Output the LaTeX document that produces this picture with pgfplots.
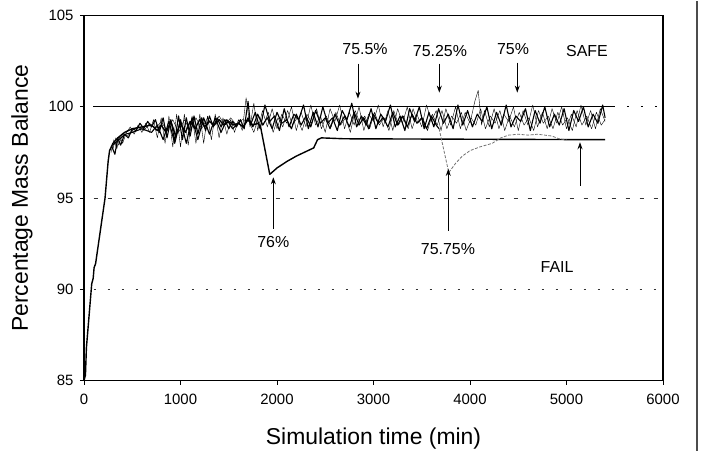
\documentclass[border=0pt]{standalone}
\usepackage{pgfplots}
\pgfplotsset{compat=1.18}
\usepackage{fontspec}
\setmainfont{Liberation Sans}
\usetikzlibrary{arrows.meta}
\begin{document}
\begin{tikzpicture}
\begin{axis}[name=ax, scale only axis, width=579bp, height=365bp,
  xmin=0, xmax=6000, ymin=85, ymax=105,
  xtick={0,1000,2000,3000,4000,5000,6000}, ytick={85,90,95,100,105},
  axis line style={line width=1.8bp},
  tick align=outside, tick pos=left, major tick length=4bp,
  tick style={black, line width=0.8bp},
  /pgf/number format/assume math mode=true,
  /pgf/number format/set thousands separator={},
  ticklabel style={font=\fontsize{15}{17}\selectfont},
  xticklabel style={yshift=-6bp},
  yticklabel style={xshift=-3bp},
  xlabel={Simulation time (min)}, ylabel={Percentage Mass Balance},
  label style={font=\fontsize{23}{26}\selectfont},
  xlabel style={at={(axis description cs:0.5,-0.1589)}, anchor=center},
  ylabel style={at={(axis description cs:-0.1071,0.5)}, anchor=center},
  cycle list={{black, solid, line width=1.1bp}},
  every axis plot/.append style={no marks, line join=round},
]
% reference lines
\addplot[black, line width=0.9bp] coordinates {(95,100) (5480,100)};
\addplot[black, line width=1bp, dash pattern=on 2bp off 12bp] coordinates {(5480,100) (5950,100)};
\addplot[black!80, line width=1bp, dash pattern=on 4bp off 10bp] coordinates {(100,95) (5950,95)};
\addplot[black!80, line width=1bp, dash pattern=on 2bp off 12bp] coordinates {(100,90) (5950,90)};

% 76%
\addplot[black, line width=1.4bp] coordinates {(0,85.0)(15,85.3)(25,86.8)(80,90.3)(95,90.6)(105,91.2)(120,91.4)(218,95.0)(250,97.0)(265,97.6)(300,98.0)(350,98.3)(420,98.6)(500,98.8)(600,98.9)(700,99.0)(760,98.7)(800,99.0)(850,98.6)(900,99.2)(950,98.4)(1000,99.1)(1050,98.6)(1100,99.2)(1150,98.8)(1200,99.3)(1250,98.9)(1300,99.2)(1350,99.0)(1400,99.3)(1450,99.0)(1500,99.2)(1550,99.0)(1600,99.1)(1650,98.9)(1700,99.3)(1750,99.0)(1800,99.1)(1830,98.9)(1925,96.3)(2000,96.65)(2100,97.0)(2200,97.3)(2300,97.55)(2380,97.75)(2420,98.2)(2460,98.3)(2700,98.25)(5400,98.2)};

% 75.75% (band part)
\addplot coordinates {(300,97.9)(360,98.2)(430,98.5)(500,98.6)(600,98.8)(700,98.6)(760,99.0)(820,98.2)(880,99.2)(940,98.0)(1000,99.3)(1060,98.0)(1120,99.4)(1180,98.2)(1240,99.4)(1300,98.5)(1360,99.4)(1420,98.6)(1480,99.3)(1540,98.8)(1600,99.1)(1650,98.9)(1700,99.4)(1750,98.9)(1800,99.6)(1850,99.0)(1900,99.4)(1950,98.8)(2000,99.7)(2050,99.1)(2100,99.3)(2150,98.8)(2200,99.6)(2250,99.0)(2300,99.5)(2350,98.9)(2400,99.8)(2450,99.1)(2500,99.4)(2550,98.8)(2600,99.6)(2650,99.0)(2700,99.5)(2750,98.9)(2800,99.7)(2850,99.0)(2900,99.4)(2950,98.8)(3000,99.6)(3050,99.1)(3100,99.4)(3150,98.9)(3200,99.7)(3250,99.0)(3300,99.5)(3350,98.9)(3400,99.6)(3450,99.1)(3500,99.4)(3550,98.8)(3600,99.5)(3650,99.0)(3680,98.8)};
% 75.75% (drop and recovery)
\addplot[black!55, line width=0.8bp, dash pattern=on 3bp off 1.5bp] coordinates {(3680,98.8)(3780,96.4)(3850,96.9)(3920,97.3)(4000,97.6)(4100,97.8)(4230,98.0)(4320,98.3)(4400,98.45)(4500,98.5)(4600,98.45)(4700,98.5)(4850,98.4)(4920,98.25)(5000,98.2)};

% 75.5%
\addplot coordinates {(280,97.5)(310,98.2)(340,97.7)(370,98.4)(400,98.0)(440,98.6)(480,98.9)(520,98.5)(560,99.0)(600,98.6)(640,99.1)(680,98.6)(720,99.3)(760,98.3)(800,99.4)(840,98.0)(880,99.5)(920,97.8)(960,99.6)(1000,97.8)(1040,99.6)(1080,97.9)(1120,99.5)(1160,98.0)(1200,99.6)(1240,98.0)(1280,99.5)(1320,98.2)(1360,99.6)(1400,98.3)(1440,99.4)(1480,98.5)(1520,99.3)(1560,98.6)(1600,99.3)(1640,98.7)(1680,100.5)(1720,98.9)(1760,100.2)(1800,98.7)(1850,99.8)(1900,98.9)(1950,99.9)(2000,98.8)(2050,99.6)(2100,99.1)(2150,100.0)(2200,98.7)(2250,99.7)(2300,98.9)(2350,100.1)(2400,99.0)(2450,99.5)(2500,98.6)(2550,99.9)(2600,99.2)(2650,100.1)(2700,98.8)(2750,99.7)(2800,99.0)(2850,100.0)(2900,98.7)(2950,99.6)(3000,99.2)(3050,100.1)(3100,98.9)(3150,99.8)(3200,98.7)(3250,99.9)(3300,99.1)(3350,100.0)(3400,98.8)(3450,99.6)(3500,98.9)(3550,100.1)(3600,99.2)(3650,99.8)(3700,98.7)(3750,99.9)(3800,99.0)(3850,100.0)(3900,98.8)(3950,99.7)(4000,99.1)(4050,100.3)(4085,100.9)(4120,99.0)(4150,99.8)(4200,98.9)(4250,99.9)(4300,98.8)(4350,99.6)(4400,99.2)(4450,100.0)(4500,98.7)(4550,99.8)(4600,99.0)(4650,100.1)(4700,98.9)(4750,99.7)(4800,98.8)(4850,99.9)(4900,99.1)(4950,100.0)(5000,98.8)(5050,99.6)(5100,98.9)(5150,100.1)(5200,99.0)(5250,99.8)(5300,98.8)(5350,99.9)(5400,99.2)};

% 75.25%
\addplot coordinates {(290,97.8)(320,97.4)(350,98.3)(380,97.9)(420,98.5)(460,98.3)(500,98.8)(540,98.7)(580,99.1)(620,98.8)(660,99.2)(700,98.9)(740,99.3)(780,98.6)(820,99.4)(860,98.3)(900,99.3)(940,98.1)(980,99.5)(1020,98.2)(1060,99.4)(1100,98.4)(1140,99.5)(1180,98.5)(1220,99.4)(1260,98.7)(1300,99.5)(1340,98.9)(1380,99.4)(1420,98.9)(1460,99.3)(1500,98.8)(1540,99.2)(1580,98.9)(1620,99.3)(1660,98.8)(1700,100.3)(1725,99.0)(1775,99.7)(1825,98.8)(1875,100.1)(1925,99.2)(1975,99.5)(2025,98.7)(2075,99.9)(2125,98.9)(2175,99.6)(2225,99.3)(2275,100.1)(2325,98.8)(2375,99.7)(2425,98.9)(2475,100.0)(2525,99.1)(2575,99.4)(2625,98.7)(2675,99.8)(2725,99.3)(2775,100.2)(2825,98.9)(2875,99.5)(2925,99.0)(2975,99.9)(3025,98.8)(3075,99.6)(3125,99.2)(3175,100.1)(3225,98.9)(3275,99.5)(3325,98.7)(3375,99.9)(3425,99.2)(3475,100.0)(3525,98.8)(3575,99.7)(3625,98.9)(3675,99.9)(3725,99.1)(3775,99.6)(3825,98.8)(3875,100.1)(3925,99.0)(3975,99.8)(4025,98.9)(4075,99.6)(4125,99.2)(4175,100.0)(4225,98.8)(4275,99.7)(4325,99.0)(4375,100.1)(4425,98.9)(4475,99.5)(4525,99.2)(4575,99.9)(4625,98.7)(4675,99.8)(4725,99.1)(4775,100.0)(4825,98.9)(4875,99.6)(4925,99.0)(4975,99.9)(5025,98.7)(5075,99.8)(5125,99.2)(5175,100.0)(5225,98.9)(5275,99.6)(5325,99.1)(5375,100.1)(5400,99.4)};

% 75%
\addplot coordinates {(300,97.7)(330,98.3)(360,97.9)(400,98.5)(450,98.4)(500,98.7)(560,98.9)(620,98.7)(680,99.1)(740,98.8)(800,99.2)(860,98.7)(920,99.3)(980,98.6)(1040,99.3)(1100,98.7)(1160,99.4)(1220,98.8)(1280,99.4)(1340,98.9)(1400,99.5)(1460,99.0)(1520,99.4)(1580,99.0)(1640,99.3)(1710,99.2)(1760,98.6)(1810,99.5)(1860,99.0)(1910,99.7)(1960,98.6)(2010,99.4)(2060,98.9)(2110,99.8)(2160,99.0)(2210,99.4)(2260,98.7)(2310,99.6)(2360,99.1)(2410,99.9)(2460,98.8)(2510,99.5)(2560,98.9)(2610,99.7)(2660,99.0)(2710,99.4)(2760,98.6)(2810,99.8)(2860,99.1)(2910,99.5)(2960,98.8)(3010,99.7)(3060,99.0)(3110,99.4)(3160,98.7)(3210,99.8)(3260,99.0)(3310,99.5)(3360,98.8)(3410,99.9)(3460,99.1)(3510,99.4)(3560,98.7)(3610,99.6)(3660,99.0)(3710,99.8)(3760,98.8)(3810,99.5)(3860,99.1)(3910,99.7)(3960,98.7)(4010,99.4)(4060,99.0)(4110,99.9)(4160,98.8)(4210,99.5)(4260,99.1)(4310,99.8)(4360,98.7)(4410,99.5)(4460,98.9)(4510,99.7)(4560,99.0)(4610,99.4)(4660,98.7)(4710,99.8)(4760,99.1)(4810,99.5)(4860,98.8)(4910,99.7)(4960,99.0)(5010,99.4)(5060,98.7)(5110,99.8)(5160,99.0)(5210,99.5)(5260,98.8)(5310,99.7)(5360,99.0)(5400,99.3)};

% annotations
\begin{scope}[every node/.style={font=\fontsize{16}{18}\selectfont}]
\node at (axis cs:2912,103.19) {75.5\%};
\node at (axis cs:3689,103.08) {75.25\%};
\node at (axis cs:4446,103.19) {75\%};
\node at (axis cs:5212,103.08) {SAFE};
\node at (axis cs:1962,92.6) {76\%};
\node at (axis cs:3772,92.2) {75.75\%};
\node at (axis cs:4902,91.25) {FAIL};
\end{scope}
\begin{scope}[line width=0.9bp, -{Stealth[length=7bp,width=5bp]}]
\draw (axis cs:2839,102.37) -- (axis cs:2839,100.45);
\draw (axis cs:3682,102.37) -- (axis cs:3682,100.78);
\draw (axis cs:4490,102.42) -- (axis cs:4490,100.78);
\draw (axis cs:1962,93.33) -- (axis cs:1962,96.14);
\draw (axis cs:3775,93.2) -- (axis cs:3775,96.6);
\draw (axis cs:5140,95.68) -- (axis cs:5140,98.06);
\end{scope}
\end{axis}
\draw[line width=1.2bp, black!70] ([xshift=34bp,yshift=-70bp]ax.south east) -- ([xshift=34bp,yshift=15bp]ax.north east);
\path[use as bounding box] ([xshift=-84bp,yshift=-70bp]ax.south west) rectangle ([xshift=38bp,yshift=15bp]ax.north east);
\end{tikzpicture}
\end{document}
